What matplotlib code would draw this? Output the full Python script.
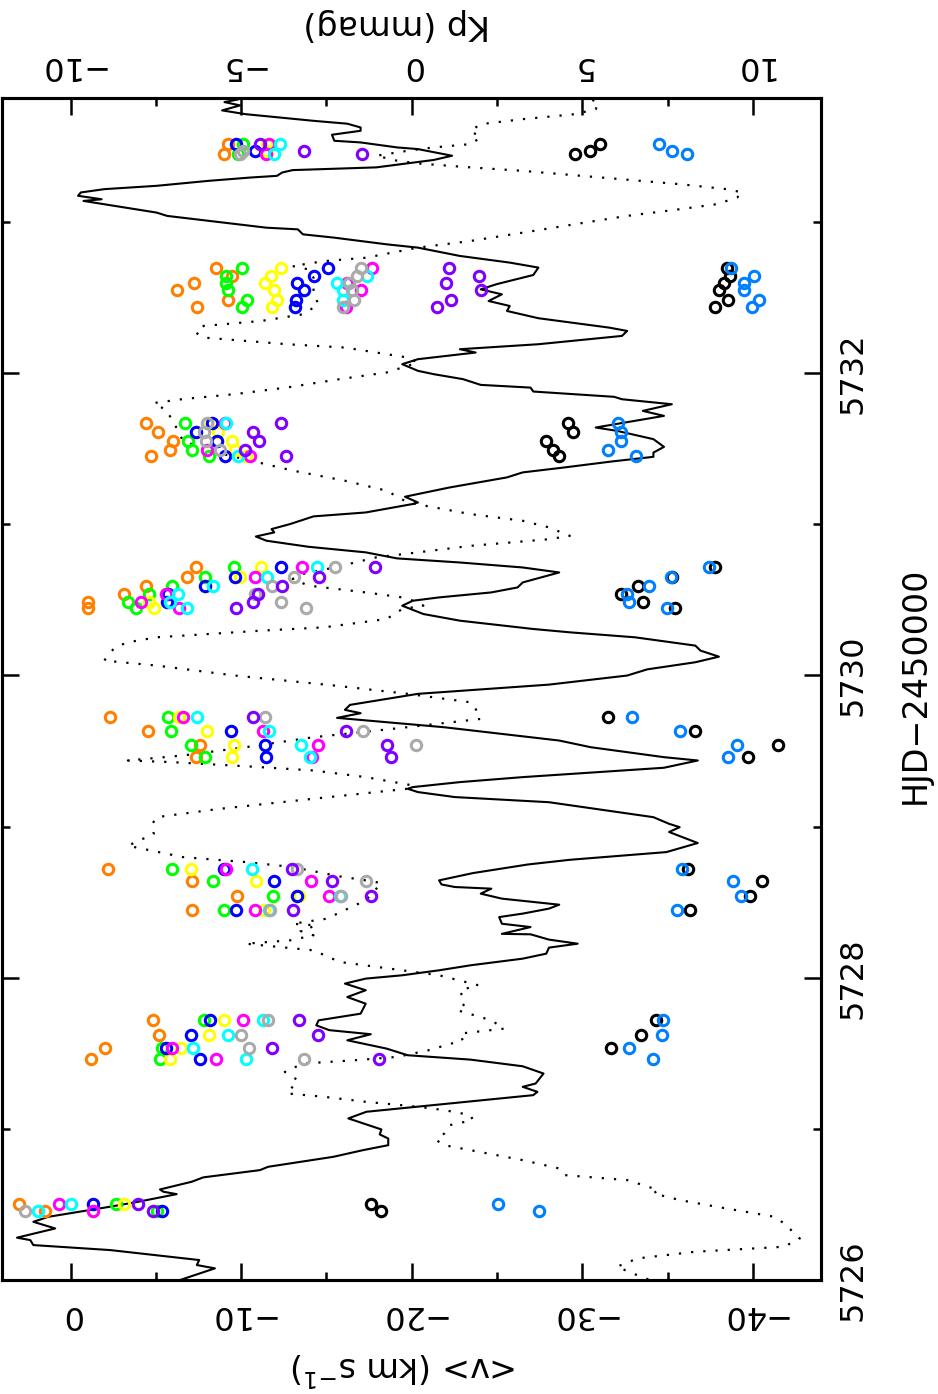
import numpy as np
import matplotlib
matplotlib.use("Agg")
import matplotlib.pyplot as plt
from matplotlib.ticker import MultipleLocator

plt.rcParams['font.family'] = ['DejaVu Sans']
plt.rcParams['mathtext.default'] = 'regular'

nan = np.nan

# observation times (HJD-2450000), shared by all velocity series
hjd_obs = [5726.456, 5726.500,
           5727.465, 5727.535, 5727.619, 5727.718,
           5728.446, 5728.538, 5728.637, 5728.721,
           5729.459, 5729.540, 5729.631, 5729.723,
           5730.444, 5730.483, 5730.539, 5730.593, 5730.648, 5730.714,
           5731.453, 5731.492, 5731.552, 5731.607, 5731.667,
           5732.440, 5732.484, 5732.548, 5732.594, 5732.642, 5732.697,
           5733.447, 5733.469, 5733.513]

# mean velocities <v> (km/s) per series
v_orange = [1.50, 3.03, -1.20, -2.02, -5.21, -4.84, -7.11, -9.75, -7.14, -2.21,
            -7.33, -7.60, -4.54, -2.30, -1.01, -1.01, -3.13, -4.44, -6.80, -7.36,
            -4.69, -5.82, -5.98, -5.15, -4.44, -7.39, -9.20, -6.22, -7.26, -9.44, -8.52,
            -8.98, nan, -9.20]
v_green = [-5.06, -2.67, -5.27, -5.36, nan, -7.82, -8.98, -11.89, -8.34, -5.92,
           -7.88, -7.08, -5.89, -5.73, -3.83, -3.37, -4.60, -5.92, -7.88, -9.56,
           -8.12, -7.14, -6.90, nan, -6.68, -10.05, -10.36, -9.20, -9.10, -9.13, -10.05,
           -9.81, nan, -10.11]
v_yellow = [-1.32, -3.16, -5.82, -6.50, -8.12, -8.98, -11.34, -13.39, -10.88, -7.05,
            -9.44, -9.56, -8.00, -6.38, -4.90, -4.60, -5.61, -7.88, -9.96, -11.19,
            -10.27, -9.66, -9.44, -8.67, -8.03, -11.80, -12.11, -11.95, -11.40, -11.74, -12.32,
            nan, -11.49, -11.49]
v_blue = [-5.36, -1.32, -7.57, -5.61, -7.05, -8.18, -9.72, -13.27, -11.95, -8.98,
          -11.43, -11.40, -9.41, nan, nan, -5.67, -5.73, -7.88, -9.66, -12.35,
          -9.04, nan, -8.58, -7.36, -8.28, -13.18, -13.24, -13.70, -13.27, -14.25, -15.11,
          nan, -10.82, -9.72]
v_magenta = [-1.32, 0.70, -8.52, -5.92, nan, -10.11, -10.79, -15.17, -14.10, -9.13,
             -14.13, -14.53, -11.28, -6.59, -6.38, -4.14, -5.61, nan, -10.79, -13.58,
             -10.51, -7.97, nan, nan, -9.04, -16.15, nan, -17.01, -16.18, nan, -17.69,
             -11.43, nan, -11.65]
v_cyan = [1.90, 0.00, -10.27, -7.20, -9.20, -11.28, -11.65, -15.79, nan, -10.61,
          -14.04, -13.49, -11.65, -7.39, -6.84, -5.82, -6.28, -8.34, -11.49, -14.47,
          -9.81, nan, nan, nan, -9.13, nan, -15.94, -15.94, -15.63, -17.38, nan,
          -11.95, nan, -12.26]
v_gray = [2.67, nan, -13.70, -10.45, -9.99, -11.56, -11.71, -15.85, -17.32, -13.27,
          nan, -20.23, -17.16, -11.37, -13.82, -12.35, -10.82, -11.80, -13.09, -15.48,
          nan, -8.74, -7.91, -7.82, -7.97, -15.94, -16.64, -16.49, -16.34, -16.80, -17.01,
          -9.96, -10.11, nan]
v_purple = [-4.81, -3.98, -18.08, -11.83, -14.50, -13.39, -13.03, -17.62, -15.33, -12.97,
            -18.79, -18.54, -16.12, -10.67, -9.72, -10.67, -10.97, -12.41, -14.56, -17.84,
            -12.63, -10.21, -11.03, -10.67, -12.32, -21.49, -22.28, -24.06, -21.98, -23.94, -22.16,
            -17.07, -13.70, -11.10]
v_black = [-18.18, -17.62, nan, -31.66, -33.41, -34.33, -36.32, -39.85, -40.55, -36.17,
           -39.69, -41.44, -36.57, -31.51, -35.40, -33.56, -32.25, -33.26, -35.25, -37.79,
           -28.60, -28.26, -27.89, -29.43, -29.18, -37.76, -38.56, -38.01, -38.31, -38.62, -38.47,
           -29.58, -30.44, -31.02]
v_azure = [-27.43, -25.07, -34.11, -32.74, -34.64, -34.73, -35.56, -39.30, -38.83, -35.86,
           -38.56, -39.08, -35.71, -32.89, -34.94, -32.74, -32.64, -33.93, -35.19, -37.39,
           -33.16, -31.51, -32.25, -32.25, -32.09, -39.91, -40.37, -39.48, -39.48, -40.06, -38.68,
           -36.11, -35.25, -34.48]

# light curve Kp (mmag), solid line
lc_hjd = [5726.000, 5726.077, 5726.099, 5726.132, 5726.198, 5726.231, 5726.264, 5726.280,
          5726.341, 5726.385, 5726.418, 5726.485, 5726.518, 5726.568, 5726.584, 5726.599,
          5726.650, 5726.679, 5726.727, 5726.749, 5726.815, 5726.859, 5726.892, 5726.936,
          5726.963, 5726.996, 5727.069, 5727.113, 5727.168, 5727.223, 5727.245, 5727.278,
          5727.300, 5727.366, 5727.414, 5727.458, 5727.487, 5727.531, 5727.586, 5727.626,
          5727.653, 5727.685, 5727.718, 5727.762, 5727.828, 5727.872, 5727.917, 5727.961,
          5727.994, 5728.016, 5728.049, 5728.082, 5728.126, 5728.159, 5728.199, 5728.225,
          5728.252, 5728.287, 5728.290, 5728.335, 5728.357, 5728.401, 5728.424, 5728.457,
          5728.483, 5728.523, 5728.556, 5728.589, 5728.600, 5728.617, 5728.644, 5728.692,
          5728.749, 5728.780, 5728.831, 5728.891, 5728.937, 5728.964, 5728.996, 5729.018,
          5729.062, 5729.161, 5729.195, 5729.228, 5729.250, 5729.261, 5729.294, 5729.327,
          5729.389, 5729.437, 5729.459, 5729.525, 5729.569, 5729.657, 5729.719, 5729.750,
          5729.772, 5729.805, 5729.878, 5729.939, 5729.999, 5730.040, 5730.087, 5730.124,
          5730.164, 5730.197, 5730.252, 5730.285, 5730.307, 5730.362, 5730.406, 5730.461,
          5730.494, 5730.516, 5730.549, 5730.582, 5730.615, 5730.681, 5730.714, 5730.747,
          5730.774, 5730.814, 5730.851, 5730.891, 5730.919, 5730.946, 5730.968, 5731.001,
          5731.052, 5731.078, 5731.134, 5731.144, 5731.182, 5731.243, 5731.310, 5731.343,
          5731.376, 5731.415, 5731.446, 5731.474, 5731.512, 5731.563, 5731.618, 5731.640,
          5731.717, 5731.750, 5731.794, 5731.827, 5731.843, 5731.878, 5731.904, 5731.922,
          5731.960, 5731.993, 5732.015, 5732.059, 5732.092, 5732.136, 5732.158, 5732.191,
          5732.246, 5732.279, 5732.301, 5732.363, 5732.411, 5732.444, 5732.477, 5732.521,
          5732.554, 5732.588, 5732.649, 5732.698, 5732.731, 5732.775, 5732.830, 5732.852,
          5732.896, 5732.918, 5732.951, 5732.962, 5733.007, 5733.040, 5733.062, 5733.095,
          5733.117, 5733.139, 5733.150, 5733.173, 5733.195, 5733.217, 5733.239, 5733.272,
          5733.294, 5733.305, 5733.327, 5733.343, 5733.361, 5733.379, 5733.410, 5733.438,
          5733.482, 5733.493, 5733.526, 5733.537, 5733.577, 5733.603, 5733.625, 5733.650,
          5733.669, 5733.713, 5733.738, 5733.771, 5733.793, 5733.810]
lc_kp = [-6.79, -5.77, -6.30, -6.23, -8.84, -11.09, -11.18, -11.57,
         -10.45, -11.09, -10.65, -8.84, -8.01, -6.89, -7.28, -7.38,
         -6.45, -6.11, -4.45, -4.21, -2.30, -1.43, -0.69, -0.69,
         -0.94, -0.89, -1.86, -1.33, 1.11, 3.56, 3.68, 3.25,
         3.63, 3.86, 3.25, 1.72, -0.12, -0.74, -1.89, -1.20,
         -2.42, -2.80, -2.73, -1.50, -1.35, -1.89, -1.35, -1.96,
         -1.35, -0.28, 0.80, 1.72, 3.25, 3.94, 4.02, 4.86,
         4.02, 3.48, 2.64, 3.48, 2.64, 2.56, 3.25, 4.02,
         4.32, 2.64, 2.02, 2.33, 1.26, 0.87, 0.80, 1.79,
         3.40, 4.63, 7.46, 8.38, 7.85, 7.54, 7.85, 7.54,
         7.08, 4.02, 1.26, 0.18, -0.12, 0.03, 1.41, 3.25,
         7.39, 8.38, 7.39, 5.24, 4.32, 0.95, -2.19, -1.50,
         -1.96, -1.81, 0.18, 4.02, 6.31, 6.90, 8.31, 9.00,
         8.46, 8.31, 6.54, 4.63, 3.56, 1.41, 0.34, -0.28,
         0.03, 0.80, 2.33, 3.10, 3.25, 4.32, 3.25, 1.41,
         -0.43, -1.35, -3.03, -4.26, -4.57, -4.03, -4.11, -3.57,
         -2.88, -1.35, 0.03, 0.18, -0.20, 1.10, 2.79, 3.25,
         4.48, 5.85, 7.08, 7.08, 7.39, 7.08, 6.01, 5.39,
         7.39, 6.77, 7.62, 6.16, 5.93, 3.56, 3.48, 2.02,
         1.50, 0.64, 0.18, -0.28, 0.18, 1.87, 1.41, 3.71,
         6.16, 6.31, 5.78, 3.71, 2.79, 2.87, 2.25, 2.64,
         2.02, 2.48, 3.56, 3.71, 2.87, 1.41, 0.18, -0.74,
         -2.27, -3.19, -3.34, -4.26, -5.95, -7.17, -7.48, -8.40,
         -9.01, -9.62, -9.09, -9.78, -9.70, -9.01, -7.48, -5.95,
         -4.72, -3.95, -3.80, -3.49, -1.04, -0.43, 0.64, 1.18,
         0.18, -0.43, -1.50, -2.27, -2.34, -1.50, -1.50, -1.89,
         -2.88, -4.87, -5.56, -5.03, -5.49, -5.10]

# second curve (dotted)
dot_hjd = [5726.004, 5726.044, 5726.088, 5726.143, 5726.187, 5726.220, 5726.275, 5726.375,
           5726.419, 5726.485, 5726.529, 5726.573, 5726.595, 5726.661, 5726.694, 5726.738,
           5726.793, 5726.859, 5726.892, 5726.925, 5726.969, 5727.024, 5727.058, 5727.091,
           5727.124, 5727.146, 5727.179, 5727.212, 5727.234, 5727.322, 5727.377, 5727.432,
           5727.454, 5727.476, 5727.520, 5727.586, 5727.630, 5727.663, 5727.718, 5727.785,
           5727.828, 5727.917, 5727.950, 5728.016, 5728.049, 5728.104, 5728.181, 5728.225,
           5728.247, 5728.280, 5728.309, 5728.346, 5728.357, 5728.390, 5728.512, 5728.626,
           5728.644, 5728.670, 5728.732, 5728.765, 5728.798, 5728.873, 5728.952, 5729.007,
           5729.062, 5729.117, 5729.184, 5729.250, 5729.272, 5729.327, 5729.371, 5729.397,
           5729.426, 5729.437, 5729.470, 5729.525, 5729.591, 5729.646, 5729.712, 5729.778,
           5729.822, 5729.878, 5729.933, 5729.999, 5730.065, 5730.098, 5730.124, 5730.186,
           5730.219, 5730.252, 5730.274, 5730.296, 5730.318, 5730.373, 5730.439, 5730.461,
           5730.494, 5730.516, 5730.549, 5730.594, 5730.638, 5730.671, 5730.714, 5730.781,
           5730.814, 5730.857, 5730.901, 5730.923, 5730.979, 5731.023, 5731.067, 5731.144,
           5731.222, 5731.288, 5731.355, 5731.421, 5731.487, 5731.553, 5731.629, 5731.685,
           5731.751, 5731.802, 5731.828, 5731.861, 5731.905, 5731.960, 5732.004, 5732.070,
           5732.103, 5732.169, 5732.191, 5732.235, 5732.268, 5732.312, 5732.345, 5732.389,
           5732.455, 5732.521, 5732.631, 5732.686, 5732.708, 5732.741, 5732.763, 5732.830,
           5732.874, 5732.929, 5732.985, 5733.040, 5733.084, 5733.117, 5733.161, 5733.195,
           5733.217, 5733.250, 5733.294, 5733.338, 5733.361, 5733.387, 5733.405, 5733.438,
           5733.471, 5733.493, 5733.515, 5733.559, 5733.603, 5733.647, 5733.680, 5733.713,
           5733.746, 5733.793, 5733.810]
dot_kp = [6.93, 6.47, 6.01, 6.62, 8.31, 10.91, 11.37, 10.91,
          10.61, 8.92, 7.85, 7.08, 7.23, 6.31, 4.48, 4.32,
          3.25, 1.72, 0.95, 0.72, 0.95, 1.10, 1.79, 1.72,
          0.95, 0.18, -1.35, -2.57, -3.65, -3.34, -3.72, -3.19,
          -1.66, -0.43, 0.49, 1.49, 1.41, 2.71, 2.33, 1.33,
          1.56, 1.41, 1.95, 0.80, -0.28, -2.11, -2.88, -4.87,
          -3.57, -2.88, -3.26, -2.80, -3.49, -2.50, -1.35, -0.89,
          -1.35, -2.11, -3.49, -4.87, -6.71, -8.32, -7.56, -7.63,
          -7.48, -5.64, -2.88, -0.12, 0.03, -1.35, -2.88, -4.72,
          -7.02, -8.32, -6.71, -4.87, -2.88, -0.58, 2.02, 1.87,
          1.72, -0.12, -2.27, -5.18, -7.48, -9.01, -8.93, -8.70,
          -8.32, -7.48, -5.95, -4.41, -2.57, -0.74, -0.28, 0.34,
          0.03, -0.28, -1.35, -3.03, -3.49, -3.19, -2.27, -1.04,
          0.18, 1.72, 4.02, 4.63, 4.02, 3.25, 1.72, -0.12,
          -0.74, -1.96, -3.49, -4.72, -5.95, -6.71, -6.87, -7.02,
          -7.17, -7.56, -6.71, -5.18, -3.65, -2.11, -0.74, 0.18,
          -0.12, -1.96, -3.65, -6.10, -6.33, -6.10, -4.41, -3.19,
          -2.73, -2.88, -2.88, -3.03, -3.49, -2.57, -1.35, 0.18,
          1.72, 3.25, 4.78, 6.31, 7.85, 8.92, 9.53, 9.69,
          9.23, 7.85, 5.55, 3.25, 1.72, 0.18, -0.43, -1.04,
          -0.12, 0.64, 1.72, 2.02, 1.72, 2.02, 3.25, 4.78,
          5.39, 5.47, 5.24]

series = [(v_orange, '#FF8000'), (v_green, '#00FF00'), (v_yellow, '#FFFF00'),
          (v_blue, '#0000FF'), (v_magenta, '#FF00FF'), (v_cyan, '#00FFFF'),
          (v_gray, '#AAAAAA'), (v_purple, '#8000FF'), (v_black, '#000000'),
          (v_azure, '#0080FF')]


def int_label(x, pos):
    return ('%d' % round(x)).replace('-', '\u2212')


fig = plt.figure(figsize=(9.38, 13.94), dpi=100)
ax = fig.add_axes([2.3 / 938, 114 / 1394, 819 / 938, 1182 / 1394])
ax2 = ax.twiny()

# light curves on the Kp axis (top)
ax2.plot(lc_kp, lc_hjd, color='black', lw=1.5)
ax2.plot(dot_kp, dot_hjd, color='black', lw=1.6, linestyle=(0, (1, 4.5)))
ax2.set_xlim(-12, 12)

# velocities on the bottom axis, drawn above the curves
ax.set_zorder(ax2.get_zorder() + 1)
ax.patch.set_visible(False)
for vals, col in series:
    ax.plot(vals, hjd_obs, linestyle='none', marker='o', ms=7.5, mfc='none',
            mec=col, mew=2.2)

ax.set_xlim(4, -44)
ax.set_ylim(5726.0, 5733.82)

ax.xaxis.set_major_locator(MultipleLocator(10))
ax.xaxis.set_minor_locator(MultipleLocator(5))
ax2.xaxis.set_major_locator(MultipleLocator(5))
ax2.xaxis.set_minor_locator(MultipleLocator(2.5))
ax.yaxis.set_major_locator(MultipleLocator(2))
ax.yaxis.set_minor_locator(MultipleLocator(1))

ax.xaxis.set_major_formatter(plt.FuncFormatter(int_label))
ax2.xaxis.set_major_formatter(plt.FuncFormatter(int_label))
ax.yaxis.set_major_formatter(plt.FuncFormatter(int_label))

ax.tick_params(axis='x', which='both', direction='in', bottom=True, top=False,
               labelsize=23, labelrotation=180, pad=14)
ax2.tick_params(axis='x', which='both', direction='in', top=True, bottom=False,
                labelsize=23, labelrotation=180, pad=12)
ax.tick_params(axis='y', which='both', direction='in', left=True, right=True,
               labelleft=False, labelright=True, labelsize=23, labelrotation=90, pad=12)
for a in (ax, ax2):
    a.tick_params(which='major', length=12, width=1.8)
    a.tick_params(which='minor', length=6, width=1.8)
    for s in a.spines.values():
        s.set_linewidth(2.2)
for lab in ax.get_yticklabels():
    lab.set_va('center')

fig.text(397 / 938, 1 - 25 / 1394, 'Kp (mmag)', rotation=180, ha='center',
         va='center', fontsize=24)
fig.text(404 / 938, 1 - 1368 / 1394, '<v> (km s$^{-1}$)', rotation=180,
         ha='center', va='center', fontsize=24)
fig.text(915 / 938, 1 - 685 / 1394, 'HJD\u22122450000', rotation=90,
         ha='center', va='center', fontsize=24)

fig.savefig('out.png', dpi=100)
